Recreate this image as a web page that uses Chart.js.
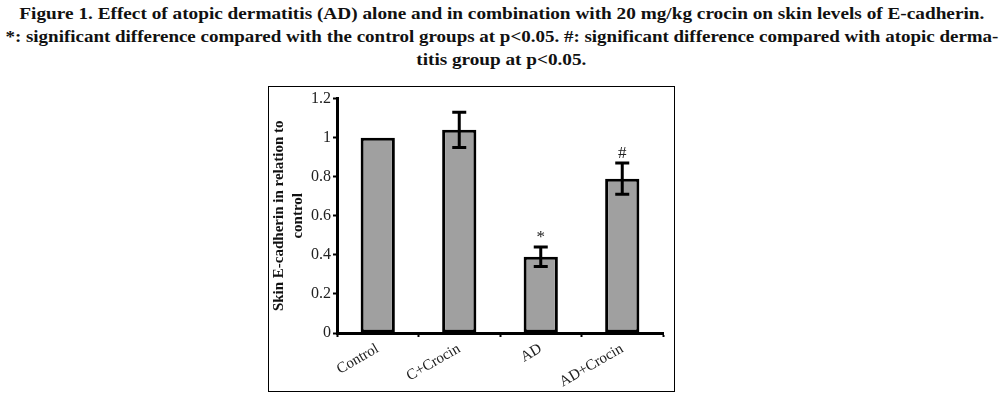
<!DOCTYPE html>
<html>
<head>
<meta charset="utf-8">
<script src="https://cdn.jsdelivr.net/npm/chart.js@4"></script>
<style>
  body { margin: 0; background: #fff; width: 1003px; height: 398px; position: relative; overflow: hidden; }
  .caption {
    position: absolute; left: 0; top: 2px; width: 1003px;
    font-family: "Liberation Serif", serif; font-weight: bold; font-size: 17px;
    color: #111; text-align: center; line-height: 23px;
  }
  .caption div { white-space: nowrap; }
  .box {
    position: absolute; left: 268px; top: 86px; width: 405px; height: 304px;
    border: 1px solid #000;
  }
  canvas { display: block; }
</style>
</head>
<body>
<div class="caption">
  <div>Figure 1. Effect of atopic dermatitis (AD) alone and in combination with 20 mg/kg crocin on skin levels of E-cadherin.</div>
  <div>*: significant difference compared with the control groups at p&lt;0.05. #: significant difference compared with atopic derma-</div>
  <div>titis group at p&lt;0.05.</div>
</div>
<div class="box"><canvas id="graph" width="405" height="304"></canvas></div>
<script>
const groups = ["Control", "C+Crocin", "AD", "AD+Crocin"]
const means = [1.0, 1.04, 0.39, 0.79]
const errors = [0, 0.09, 0.05, 0.08]
const marks = ["", "", "*", "#"]
const yTicks = [0, 0.2, 0.4, 0.6, 0.8, 1, 1.2]

const canva = document.getElementById("graph")
const ctx = canva.getContext("2d")

// squeeze caption lines so they span the same width as in the figure
const lineWidths = [965, 993, 170]
document.querySelectorAll(".caption div").forEach((el, i) => {
  const span = document.createElement("span")
  span.textContent = el.textContent
  el.textContent = ""
  el.appendChild(span)
  span.style.display = "inline-block"
  const w = span.getBoundingClientRect().width
  span.style.transform = `scaleX(${lineWidths[i] / w})`
})

const errorBars = {
  id: "errorBars",
  afterDatasetsDraw(chart) {
    const c = chart.ctx
    const meta = chart.getDatasetMeta(0)
    const y = chart.scales.y
    c.save()
    c.strokeStyle = "#000"
    c.lineWidth = 3
    meta.data.forEach((bar, i) => {
      const top = y.getPixelForValue(means[i] + errors[i])
      const bot = y.getPixelForValue(means[i] - errors[i])
      if (errors[i] > 0) {
        c.beginPath()
        c.moveTo(bar.x, top); c.lineTo(bar.x, bot)
        c.moveTo(bar.x - 7, top); c.lineTo(bar.x + 7, top)
        c.moveTo(bar.x - 7, bot); c.lineTo(bar.x + 7, bot)
        c.stroke()
      }
      if (marks[i]) {
        c.fillStyle = "#222"
        c.font = "17px 'Liberation Serif', serif"
        c.textAlign = "center"
        c.textBaseline = "bottom"
        c.fillText(marks[i], bar.x, top - 1)
      }
    })
    c.restore()
  }
}

new Chart(ctx, {
  type: "bar",
  data: {
    labels: groups,
    datasets: [{
      data: means,
      backgroundColor: "#a0a0a0",
      borderColor: "#000",
      borderWidth: 3,
      borderSkipped: false,
      categoryPercentage: 1,
      barPercentage: 0.42
    }]
  },
  plugins: [errorBars],
  options: {
    responsive: false,
    animation: false,
    layout: { padding: { top: 9, right: 11, left: 0, bottom: 0 } },
    plugins: {
      legend: { display: false },
      tooltip: { enabled: false }
    },
    scales: {
      x: {
        afterFit: s => { s.height = 58 },
        border: { color: "#000", width: 3 },
        grid: { drawOnChartArea: false, tickLength: 4, tickWidth: 2, tickColor: "#000" },
        ticks: {
          maxRotation: 30, minRotation: 30,
          color: "#222",
          font: { family: "'Liberation Serif', serif", size: 15 }
        }
      },
      y: {
        min: 0, max: 1.2,
        afterFit: s => { s.width = 68 },
        afterBuildTicks: s => { s.ticks = yTicks.map(v => ({ value: v })) },
        border: { color: "#000", width: 3 },
        grid: { drawOnChartArea: false, tickLength: 4, tickWidth: 2, tickColor: "#000" },
        ticks: {
          padding: 2,
          color: "#222",
          font: { family: "'Liberation Serif', serif", size: 16 },
          callback: v => String(v)
        },
        title: {
          display: true,
          text: ["Skin E-cadherin in relation to", "control"],
          color: "#111",
          font: { family: "'Liberation Serif', serif", size: 15, weight: "bold", lineHeight: 1.3 },
          padding: { top: 0, bottom: 2 }
        }
      }
    }
  }
})
</script>
</body>
</html>
